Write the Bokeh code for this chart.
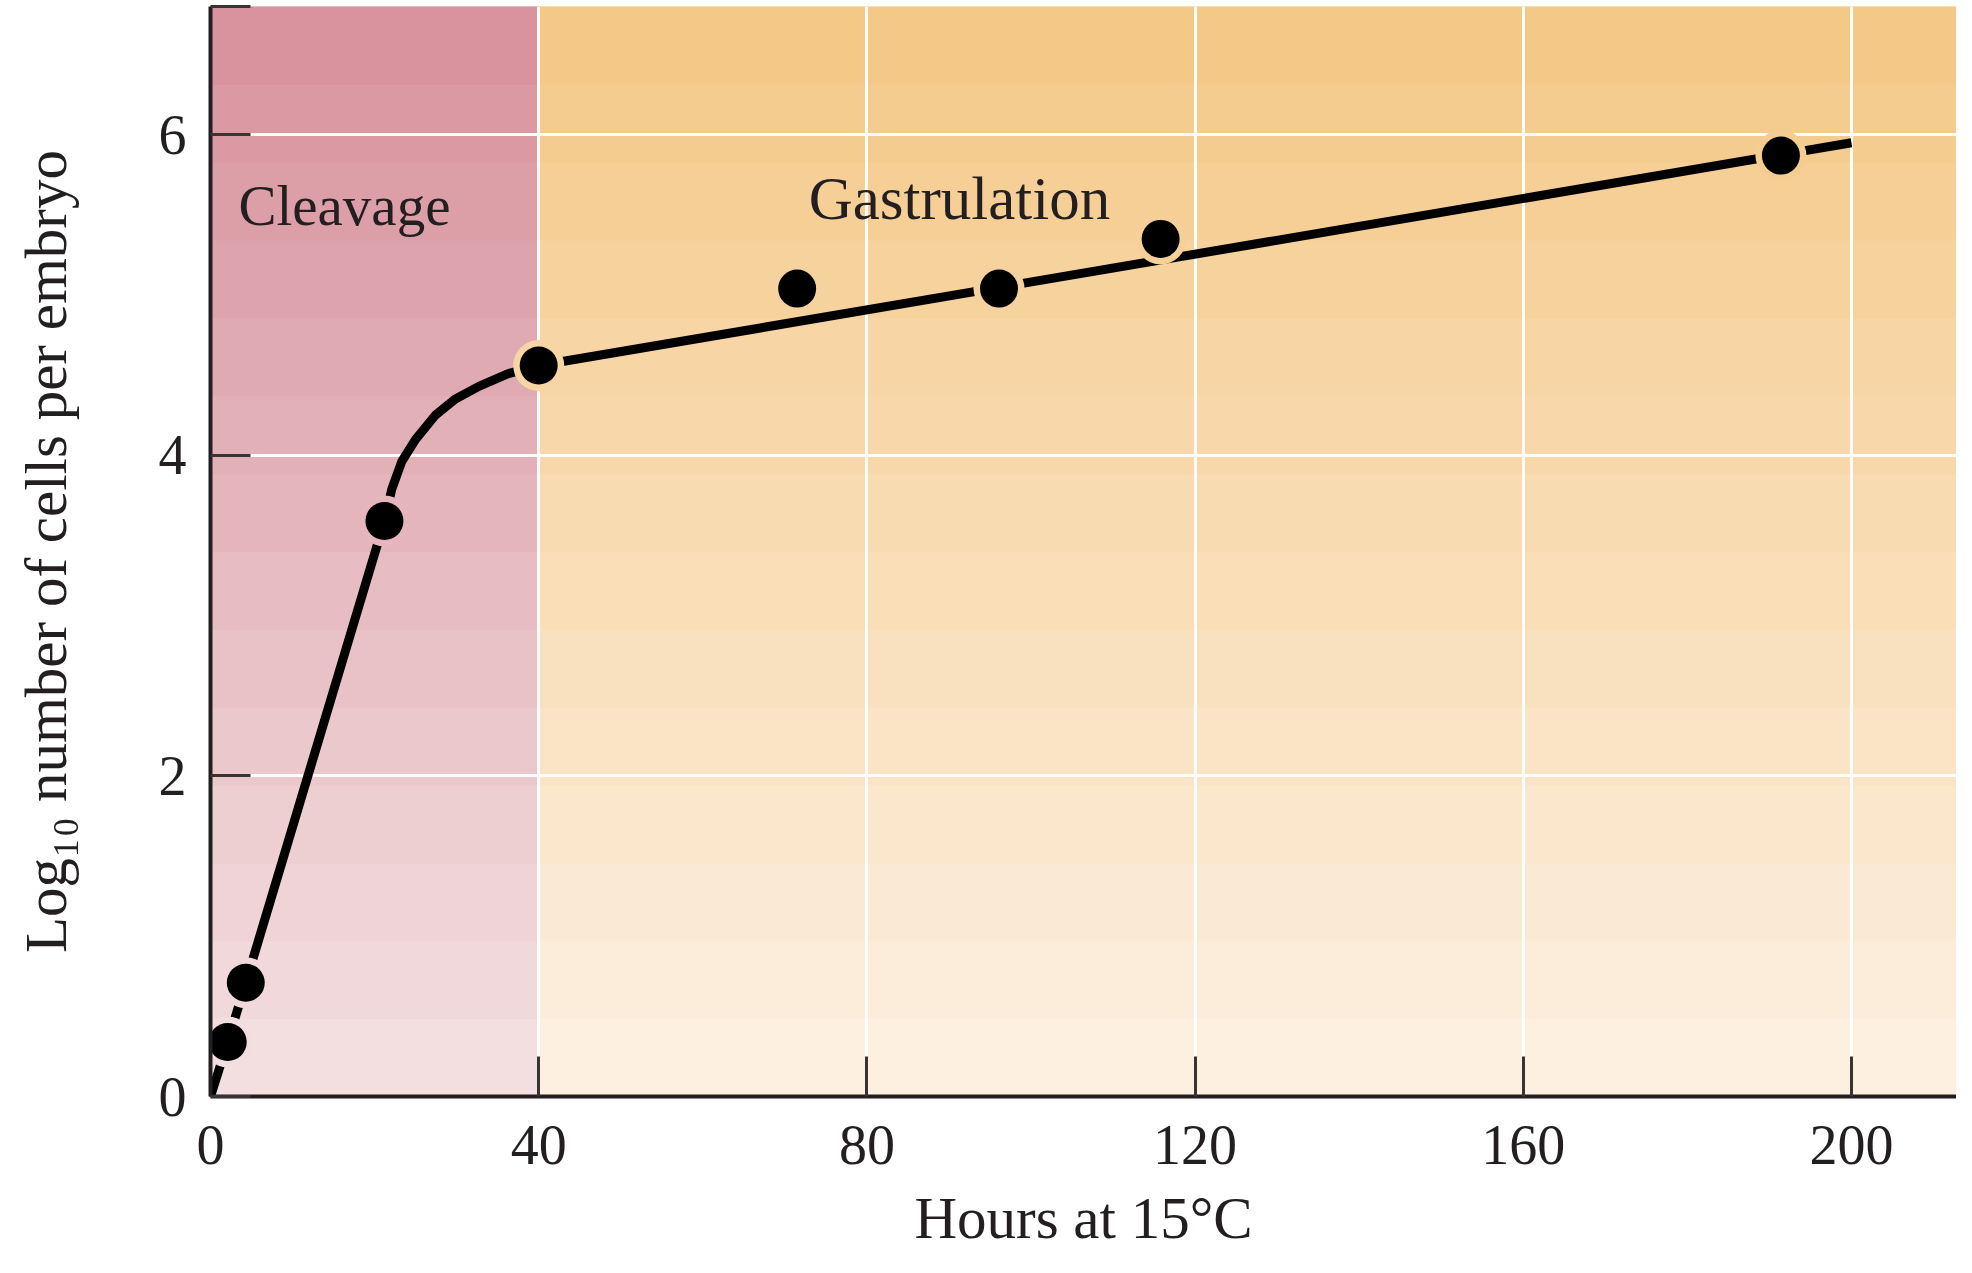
import numpy as np
from bokeh.plotting import figure
from bokeh.models import Range1d, FixedTicker, ColumnDataSource
from bokeh.embed import file_html
from bokeh.resources import INLINE
from bokeh.core.properties import value

# ---- data ----
hours = [2.1, 4.3, 21.2, 40.0, 71.5, 96.1, 115.8, 191.4]
log_cells = [0.34, 0.71, 3.59, 4.56, 5.04, 5.04, 5.35, 5.87]
curve_hours = [0, 2.1, 4.3, 21.2, 22.1, 23.3, 25.0, 27.4, 29.8, 32.7, 36.3, 40.0, 200.0]
curve_log = [0, 0.34, 0.71, 3.59, 3.79, 3.96, 4.10, 4.25, 4.35, 4.43, 4.51, 4.56, 5.95]
x_ticks = [0, 40, 80, 120, 160, 200]
y_ticks = [0, 2, 4, 6]
phase_names = ["Cleavage", "Gastrulation"]
phase_start = [0, 40]
phase_end = [40, 212.8]
x_title = "Hours at 15°C"
y_title = "Log₁₀ number of cells per embryo"

X_MAX, Y_MAX = 212.8, 6.8
FONT = "Liberation Serif"
INK = "#231f20"

# gradient colours (top, bottom) for each phase
phase_top = [(215, 144, 155), (244, 199, 133)]
phase_bottom = [(244, 226, 227), (253, 242, 228)]


def grad(i, y):
    t = min(max(y / Y_MAX, 0), 1)
    c = [int(round(b + (a - b) * t)) for a, b in zip(phase_top[i], phase_bottom[i])]
    return "#%02x%02x%02x" % tuple(c)


p = figure(width=1956, height=1257, output_backend="svg", toolbar_location=None,
           x_range=Range1d(0, X_MAX), y_range=Range1d(0, Y_MAX),
           min_border_left=210, min_border_right=0, min_border_top=6, min_border_bottom=161)
p.outline_line_color = None
p.background_fill_color = "white"
p.border_fill_color = "white"

# background bands
n_bands = 14
edges = np.linspace(0, Y_MAX, n_bands + 1)
for i in range(len(phase_names)):
    cols = [grad(i, (edges[k] + edges[k + 1]) / 2) for k in range(n_bands)]
    p.quad(left=[phase_start[i]] * n_bands, right=[phase_end[i]] * n_bands,
           bottom=edges[:-1], top=edges[1:], fill_color=cols, line_color=cols,
           line_width=1, level="image")

# grid
for g in (p.xgrid, p.ygrid):
    g.grid_line_color = "white"
    g.grid_line_width = 3
    g.grid_line_alpha = 0.95
p.xgrid.ticker = FixedTicker(ticks=x_ticks[1:])
p.ygrid.ticker = FixedTicker(ticks=y_ticks[1:])

# curve
p.line(curve_hours, curve_log, line_color="black", line_width=9, line_cap="butt", line_join="round")

# markers with halo
halo = [grad(0 if h < 40 else 1, v) for h, v in zip(hours, log_cells)]
src = ColumnDataSource(dict(x=hours, y=log_cells, halo=halo))
p.scatter("x", "y", source=src, size=51, fill_color="halo", line_color=None)
p.scatter("x", "y", source=src, size=38, fill_color="black", line_color=None)

# phase labels
p.text(x=[3.4], y=[5.56], text=[phase_names[0]], text_font=value(FONT),
       text_font_size="57px", text_color=INK, text_baseline="alphabetic")
p.text(x=[72.9], y=[5.60], text=[phase_names[1]], text_font=value(FONT),
       text_font_size="61px", text_color=INK, text_baseline="alphabetic")

# axes
p.xaxis.ticker = FixedTicker(ticks=x_ticks)
p.yaxis.ticker = FixedTicker(ticks=y_ticks + [Y_MAX])
p.yaxis.major_label_overrides = {Y_MAX: ""}
for ax in (p.xaxis, p.yaxis):
    ax.axis_line_color = INK
    ax.axis_line_width = 4
    ax.major_tick_in = 40
    ax.major_tick_out = 0
    ax.major_tick_line_color = "#3a3333"
    ax.major_tick_line_width = 3
    ax.minor_tick_line_color = None
    ax.major_label_text_font = FONT
    ax.major_label_text_font_size = "56px"
    ax.major_label_text_color = INK
    ax.axis_label_text_font = FONT
    ax.axis_label_text_font_size = "59px"
    ax.axis_label_text_font_style = "normal"
    ax.axis_label_text_color = INK
p.xaxis.major_label_standoff = 29
p.yaxis.major_label_standoff = 24
p.xaxis.axis_label = x_title
p.yaxis.axis_label = y_title
p.xaxis.axis_label_standoff = 18
p.yaxis.axis_label_standoff = 77

open("out.html", "w").write(file_html(p, INLINE))
